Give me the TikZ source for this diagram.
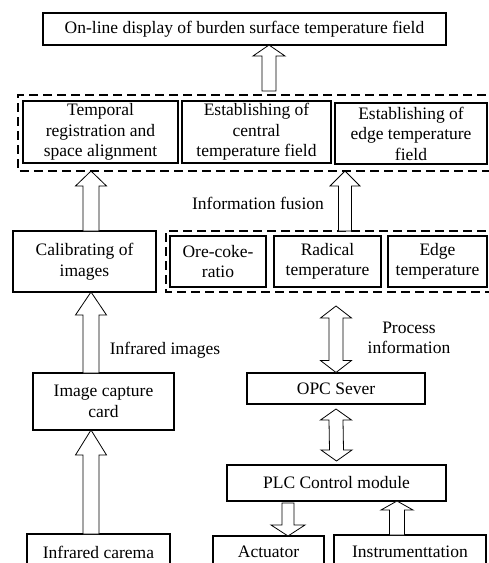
\documentclass[tikz,border=0pt]{standalone}
\usepackage{fontspec}
\setmainfont{Liberation Serif}
\usetikzlibrary{calc}
\newcommand\fs{\fontsize{17.5}{20.5}\selectfont}
\newcommand\barup[5]{\draw[barrow] let \p1=#1,\p2=#2 in (\x2,\y2) -- (\x2+#4,\y2-#5) -- (\x2+#3,\y2-#5) -- (\x1+#3,\y1) -- (\x1-#3,\y1) -- (\x2-#3,\y2-#5) -- (\x2-#4,\y2-#5) -- cycle;}
\newcommand\bardown[5]{\draw[barrow] let \p1=#1,\p2=#2 in (\x2,\y2) -- (\x2+#4,\y2+#5) -- (\x2+#3,\y2+#5) -- (\x1+#3,\y1) -- (\x1-#3,\y1) -- (\x2-#3,\y2+#5) -- (\x2-#4,\y2+#5) -- cycle;}
\newcommand\bardouble[5]{\draw[barrow] let \p1=#1,\p2=#2 in (\x2,\y2) -- (\x2+#4,\y2-#5) -- (\x2+#3,\y2-#5) -- (\x1+#3,\y1+#5) -- (\x1+#4,\y1+#5) -- (\x1,\y1) -- (\x1-#4,\y1+#5) -- (\x1-#3,\y1+#5) -- (\x2-#3,\y2-#5) -- (\x2-#4,\y2-#5) -- cycle;}
\tikzset{
  box/.style={draw, line width=1.3pt, inner sep=0pt, outer sep=0pt, align=center, font=\fs},
  grp/.style={inner sep=0pt, outer sep=0pt},
  dline/.style={draw, line width=1.3pt, dash pattern=on 9pt off 5pt},
  barrow/.style={draw, line width=0.8pt, fill=white, line join=miter},
  lbl/.style={inner sep=0pt, align=center, font=\fs}
}
\begin{document}
\begin{tikzpicture}[x=1pt,y=-1pt]
\useasboundingbox (0,0) rectangle (489,563);
\clip (0,0) rectangle (489,563);
% groups (open to the right, as cut by the page edge)
\node[grp, minimum width=482, minimum height=76] (g1) at (259,133) {};
\node[grp, minimum width=334, minimum height=61] (g2) at (333,261.5) {};
\draw[dline] (g1.north east) -- (g1.north west) -- (g1.south west) -- (g1.south east);
\draw[dline] (g2.north east) -- (g2.north west) -- (g2.south west) -- (g2.south east);
% boxes
\node[box, minimum width=403, minimum height=32] (top) at (244.5,29) {On-line display of burden surface temperature field};
\node[box, minimum width=155, minimum height=62] (tr) at (100.5,132) {Temporal\\registration and\\space alignment};
\node[box, minimum width=149, minimum height=62] (ec) at (256.5,132) {Establishing of\\central\\temperature field};
\node[box, minimum width=152, minimum height=61] (ee) at (411,133.5) {Establishing of\\edge temperature\\field};
\node[box, minimum width=143, minimum height=61] (cal) at (84.5,261.5) {Calibrating of\\images};
\node[box, minimum width=96, minimum height=51] (ore) at (218,261.5) {Ore-coke-\\ratio};
\node[box, minimum width=107, minimum height=51] (rad) at (327.5,261.5) {Radical\\temperature};
\node[box, minimum width=99, minimum height=51] (edt) at (437.5,261.5) {Edge\\temperature};
\node[box, minimum width=141, minimum height=57] (cap) at (103.5,401.5) {Image capture\\card};
\node[box, minimum width=143, minimum height=36] (ir) at (98.5,552) {Infrared carema};
\node[box, minimum width=178, minimum height=31] (opc) at (336,388.5) {OPC Sever};
\node[box, minimum width=219, minimum height=36] (plc) at (336.5,483) {PLC Control module};
\node[box, minimum width=111, minimum height=32] (act) at (268.5,552) {Actuator};
\node[box, minimum width=152, minimum height=33] (ins) at (410,551.5) {Instrumenttation};
% labels
\node[lbl] (lf) at (258,203) {Information fusion};
\node[lbl] (li) at (165,350) {Infrared images};
\node[lbl] (lp) at (409,338) {Process\\information};
% arrow axes
\coordinate (ax1) at (269,91);
\coordinate (ax2) at (91,0);
\coordinate (ax3) at (345,0);
\coordinate (ax6) at (288,0);
\coordinate (ax7) at (397,0);
% arrows
\barup{(ax1)}{(ax1 |- top.south)}{7pt}{16pt}{11pt}
\barup{(ax2 |- cal.north)}{(ax2 |- g1.south)}{8pt}{15.5pt}{15pt}
\barup{(ax3 |- g2.north)}{(ax3 |- g1.south)}{6.5pt}{15pt}{15pt}
\barup{(ax2 |- cap.north)}{(ax2 |- cal.south)}{8pt}{15.5pt}{23pt}
\barup{(ax2 |- ir.north)}{(ax2 |- cap.south)}{8pt}{15.5pt}{25pt}
\bardouble{($(opc.north)+(0,-0.5)$)}{($(g2.south -| opc.north)+(0,14)$)}{7pt}{15.5pt}{12pt}
\bardouble{($(plc.north)+(0,-4)$)}{($(opc.south)+(0,5)$)}{7pt}{15.5pt}{11pt}
\bardown{($(ax6 |- plc.south)+(0,2)$)}{(ax6 |- act.north)}{6pt}{17pt}{11pt}
\barup{(ax7 |- ins.north)}{(ax7 |- plc.south)}{7.5pt}{16pt}{9pt}
\end{tikzpicture}
\end{document}
